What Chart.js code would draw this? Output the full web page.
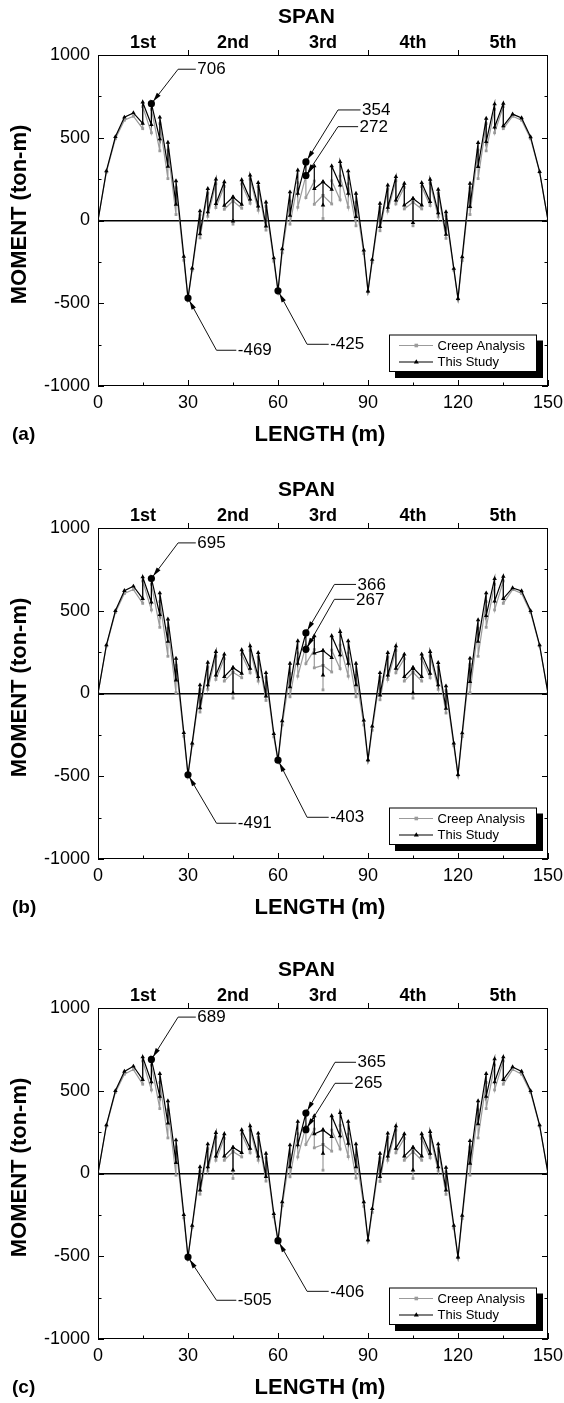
<!DOCTYPE html>
<html>
<head>
<meta charset="utf-8">
<script src="https://cdn.jsdelivr.net/npm/chart.js"></script>
<style>
  html, body { margin: 0; padding: 0; background: #fff; width: 564px; height: 1403px; overflow: hidden; }
  canvas { position: absolute; left: 0; }
</style>
</head>
<body>
<canvas id="chartA" width="564" height="452" style="top:0px"></canvas>
<canvas id="chartB" width="564" height="452" style="top:473px"></canvas>
<canvas id="chartC" width="564" height="452" style="top:953px"></canvas>
<script>
// node positions along the bridge (m); repeated x = jump in the moment diagram
const lengthM = [
  0, 2.8, 5.8, 8.8, 11.8, 14.9, 14.9, 17.8, 17.8, 20.6, 20.6, 23.3, 23.3, 26, 26, 28.6, 30,
  31.4, 34, 34, 36.6, 36.6, 39.3, 39.3, 42.1, 42.1, 45, 45, 45, 47.9, 47.9, 50.7, 50.7, 53.4, 53.4, 56, 56, 58.6, 60,
  61.4, 64, 64, 66.6, 66.6, 69.3, 69.3, 72.1, 72.1, 75, 75, 75, 77.9, 77.9, 80.7, 80.7, 83.4, 83.4, 86, 86, 88.6, 90,
  91.4, 94, 94, 96.6, 96.6, 99.3, 99.3, 102.1, 102.1, 105, 105, 105, 107.9, 107.9, 110.7, 110.7, 113.4, 113.4, 116, 116, 118.6, 120,
  121.4, 124, 124, 126.7, 126.7, 129.4, 129.4, 132.2, 132.2, 135.1, 135.1, 138.2, 141.2, 144.2, 147.2, 150
];

// (a)
const studyA = [
  0, 300, 506, 624, 650, 587, 715, 579, 706, 492, 624, 326, 472, 97, 239, -217, -469,
  -288, 57, -81, 192, 51, 249, 101, 233, 91, 142, -4, 142, 97, 245, 128, 273, 87, 229, -34, 111, -227, -425,
  -172, 172, 30, 304, 164, 354, 272, 329, 192, 234, 93, 234, 188, 329, 214, 355, 164, 299, 23, 164, -179, -427,
  -236, 103, -38, 214, 79, 264, 123, 224, 93, 133, -14, 133, 93, 228, 113, 248, 46, 188, -85, 52, -290, -472,
  -220, 224, 83, 470, 325, 617, 476, 704, 563, 708, 571, 643, 620, 505, 295, 0
];
const creepA = [
  0, 292, 494, 606, 630, 555, 688, 530, 672, 421, 585, 253, 425, 36, 198, -240, -472,
  -300, 35, -105, 165, 25, 222, 78, 206, 68, 118, -22, 118, 74, 220, 104, 250, 62, 205, -58, 86, -246, -430,
  -195, 118, -22, 228, 80, 272, 138, 238, 98, 152, 12, 152, 100, 240, 125, 268, 80, 222, -32, 110, -200, -430,
  -252, 80, -62, 190, 56, 240, 100, 200, 70, 110, -32, 110, 70, 205, 90, 226, 22, 165, -108, 30, -300, -475,
  -242, 198, 36, 425, 253, 585, 421, 672, 530, 688, 555, 630, 606, 494, 292, 0
];

// (b)
const studyB = [
  0, 293, 500, 621, 648, 573, 704, 551, 695, 476, 607, 314, 449, 81, 212, -237, -491,
  -300, 51, -87, 188, 51, 253, 111, 237, 101, 156, 4, 156, 121, 263, 152, 287, 101, 247, -16, 125, -243, -403,
  -166, 182, 40, 318, 182, 366, 267, 348, 243, 259, 111, 259, 217, 348, 233, 374, 182, 318, 51, 182, -162, -401,
  -198, 125, -10, 247, 111, 287, 152, 237, 101, 156, 4, 156, 101, 237, 121, 253, 51, 186, -91, 45, -300, -491,
  -239, 213, 71, 445, 314, 607, 470, 694, 557, 708, 573, 638, 620, 500, 293, 0
];
const creepB = [
  0, 287, 490, 604, 628, 545, 680, 505, 660, 400, 555, 225, 395, 5, 170, -258, -494,
  -312, 25, -112, 160, 25, 225, 85, 210, 75, 128, -28, 128, 95, 236, 125, 260, 75, 220, -42, 98, -262, -408,
  -190, 120, -20, 245, 105, 290, 180, 265, 155, 170, 22, 170, 130, 262, 150, 292, 105, 245, -20, 110, -190, -405,
  -222, 100, -38, 220, 85, 260, 125, 210, 75, 128, -28, 128, 75, 210, 95, 226, 25, 160, -118, 18, -316, -494,
  -260, 175, 5, 395, 225, 555, 400, 660, 505, 680, 545, 628, 604, 490, 287, 0
];

// (c)
const studyC = [
  0, 293, 500, 617, 648, 567, 704, 553, 689, 466, 603, 304, 439, 65, 202, -249, -505,
  -314, 40, -101, 178, 40, 247, 105, 239, 105, 158, 20, 158, 125, 263, 152, 287, 105, 243, -20, 121, -243, -406,
  -172, 172, 40, 314, 172, 365, 265, 348, 239, 263, 121, 263, 223, 348, 227, 368, 182, 314, 40, 178, -172, -401,
  -213, 121, -20, 243, 105, 287, 152, 239, 105, 158, 20, 158, 105, 239, 121, 253, 40, 178, -101, 36, -314, -505,
  -253, 198, 61, 439, 300, 603, 466, 692, 553, 704, 567, 644, 617, 500, 293, 0
];
const creepC = [
  0, 287, 490, 600, 628, 540, 680, 505, 655, 392, 550, 215, 385, -10, 160, -268, -508,
  -325, 15, -125, 150, 15, 220, 80, 212, 80, 132, -30, 132, 100, 238, 125, 262, 80, 218, -46, 95, -262, -410,
  -195, 112, -20, 240, 100, 285, 175, 268, 155, 175, 20, 175, 135, 262, 148, 290, 102, 238, -28, 110, -198, -405,
  -235, 95, -48, 218, 80, 262, 125, 212, 80, 132, -30, 132, 80, 212, 95, 228, 15, 150, -126, 10, -330, -508,
  -272, 160, -10, 385, 215, 550, 392, 655, 505, 680, 540, 628, 600, 490, 287, 0
];

const lengthTicks = [0, 30, 60, 90, 120, 150];
const momentTicks = [-1000, -500, 0, 500, 1000];
const spanCenters = [15, 45, 75, 105, 135];
const spanNames = ['1st', '2nd', '3rd', '4th', '5th'];

// labelled values: [text, length, moment]
const marksA = [['706', 17.8, 706], ['354', 69.3, 354], ['272', 69.3, 272], ['-469', 30, -469], ['-425', 60, -425]];
const marksB = [['695', 17.8, 695], ['366', 69.3, 366], ['267', 69.3, 267], ['-491', 30, -491], ['-403', 60, -403]];
const marksC = [['689', 17.8, 689], ['365', 69.3, 365], ['265', 69.3, 265], ['-505', 30, -505], ['-406', 60, -406]];

// where each leader line bends (in axis units) and where its horizontal part ends
const leadersA = [[26.7, 914, 32.6], [80, 668, 87.5], [80, 567, 86.7], [39.5, -784, 46.1], [69.7, -748, 76.9]];
const leadersB = [[26.7, 910, 32.6], [78.8, 659, 86], [78.8, 569, 85.5], [39.5, -784, 46.1], [69.7, -748, 76.9]];
const leadersC = [[26.7, 945, 32.6], [79, 672, 86], [79, 545, 84.9], [39.5, -766, 46.1], [69.7, -712, 76.9]];

const FONT = "'Liberation Sans', Arial, Helvetica, sans-serif";
Chart.defaults.font.family = FONT;
Chart.defaults.color = '#000';

function series(values) {
  return values.map((v, i) => ({ x: lengthM[i], y: v }));
}

const decor = {
  id: 'decor',
  afterDatasetsDraw(chart, args, opts) {
    const { ctx, chartArea: a, scales } = chart;
    const x = scales.x, y = scales.y;
    ctx.save();

    // frame and inward ticks
    ctx.strokeStyle = '#000';
    ctx.lineWidth = 1;
    ctx.strokeRect(a.left + 0.5, a.top + 0.5, a.right - a.left - 1, a.bottom - a.top - 1);
    ctx.beginPath();
    for (let v = 0; v <= 150; v += 15) {
      const px = Math.round(x.getPixelForValue(v)) + 0.5;
      const len = v % 30 === 0 ? 6 : 3.5;
      ctx.moveTo(px, a.bottom);
      ctx.lineTo(px, a.bottom - len);
    }
    for (let v = 30; v <= 120; v += 30) {
      const px = Math.round(x.getPixelForValue(v)) + 0.5;
      ctx.moveTo(px, a.top);
      ctx.lineTo(px, a.top - 5);
    }
    for (let v = -1000; v <= 1000; v += 250) {
      const py = Math.round(y.getPixelForValue(v)) + 0.5;
      const len = v % 500 === 0 ? 6 : 3.5;
      ctx.moveTo(a.left, py);
      ctx.lineTo(a.left + len, py);
      ctx.moveTo(a.right, py);
      ctx.lineTo(a.right - len, py);
    }
    ctx.stroke();

    // callouts
    opts.marks.forEach((m, i) => {
      const [text, mx, my] = m;
      const [bx, by, ex] = opts.leaders[i];
      const px = x.getPixelForValue(mx), py = y.getPixelForValue(my);
      const qx = x.getPixelForValue(bx), qy = y.getPixelForValue(by);
      const hx = x.getPixelForValue(ex);
      ctx.strokeStyle = '#111';
      ctx.lineWidth = 1;
      ctx.beginPath();
      ctx.moveTo(px, py);
      ctx.lineTo(qx, qy);
      ctx.lineTo(hx, qy);
      ctx.stroke();
      const ang = Math.atan2(qy - py, qx - px);
      const c = Math.cos(ang), s = Math.sin(ang);
      ctx.fillStyle = '#000';
      ctx.beginPath();
      ctx.moveTo(px + c * 3, py + s * 3);
      ctx.lineTo(px + c * 12 - s * 2.4, py + s * 12 + c * 2.4);
      ctx.lineTo(px + c * 12 + s * 2.4, py + s * 12 - c * 2.4);
      ctx.closePath();
      ctx.fill();
      ctx.beginPath();
      ctx.arc(px, py, 3.6, 0, Math.PI * 2);
      ctx.fill();
      ctx.font = '17px ' + FONT;
      ctx.textAlign = 'left';
      ctx.textBaseline = 'middle';
      ctx.fillText(text, hx + 1.5, qy + 0.5);
    });

    // legend with drop shadow
    const lx = a.right - 159, ly = a.bottom - 51.5, lw = 148, lh = 37.5;
    ctx.fillStyle = '#000';
    ctx.fillRect(lx + 6, ly + 6, lw, lh);
    ctx.fillStyle = '#fff';
    ctx.fillRect(lx, ly, lw, lh);
    ctx.strokeStyle = '#000';
    ctx.lineWidth = 1;
    ctx.strokeRect(lx + 0.5, ly + 0.5, lw - 1, lh - 1);
    chart.data.datasets.forEach((ds, i) => {
      const ry = ly + 11 + i * 16.5;
      ctx.strokeStyle = ds.borderColor;
      ctx.lineWidth = 1.2;
      ctx.beginPath();
      ctx.moveTo(lx + 10, ry);
      ctx.lineTo(lx + 44, ry);
      ctx.stroke();
      ctx.fillStyle = ds.borderColor;
      ctx.beginPath();
      if (ds.pointStyle === 'rect') {
        ctx.rect(lx + 25.5, ry - 1.8, 3.6, 3.6);
      } else {
        ctx.moveTo(lx + 27.3, ry - 2.8);
        ctx.lineTo(lx + 29.8, ry + 1.6);
        ctx.lineTo(lx + 24.8, ry + 1.6);
        ctx.closePath();
      }
      ctx.fill();
      ctx.fillStyle = '#000';
      ctx.font = '13px ' + FONT;
      ctx.textAlign = 'left';
      ctx.textBaseline = 'middle';
      ctx.fillText(ds.label, lx + 48.5, ry + 0.5);
    });

    // titles
    ctx.fillStyle = '#000';
    ctx.textAlign = 'center';
    ctx.textBaseline = 'middle';
    ctx.font = 'bold 21px ' + FONT;
    ctx.fillText('SPAN', x.getPixelForValue(69.5), a.top - 38);
    ctx.font = 'bold 22px ' + FONT;
    ctx.fillText('LENGTH (m)', (a.left + a.right) / 2 - 3, a.bottom + 49);
    ctx.save();
    ctx.translate(20, (a.top + a.bottom) / 2 - 6);
    ctx.rotate(-Math.PI / 2);
    ctx.fillText('MOMENT (ton-m)', 0, 0);
    ctx.restore();
    ctx.font = 'bold 19px ' + FONT;
    ctx.textAlign = 'left';
    ctx.fillText(opts.letter, 12, a.bottom + 49);
    ctx.restore();
  }
};

function makeChart(id, creep, study, letter, marks, leaders) {
  return new Chart(document.getElementById(id), {
    type: 'line',
    data: {
      datasets: [
        {
          label: 'Creep Analysis',
          data: series(creep),
          borderColor: '#9b9b9b',
          backgroundColor: '#9b9b9b',
          borderWidth: 1.2,
          pointStyle: 'rect',
          pointRadius: 2,
          pointBorderWidth: 0,
          tension: 0,
          order: 1
        },
        {
          label: 'This Study',
          data: series(study),
          borderColor: '#000',
          backgroundColor: '#000',
          borderWidth: 1.2,
          pointStyle: 'triangle',
          pointRadius: 2.6,
          pointBorderWidth: 0,
          tension: 0,
          order: 0
        }
      ]
    },
    options: {
      responsive: false,
      animation: false,
      devicePixelRatio: 1,
      layout: { padding: { left: 0, top: 0, bottom: 0, right: 16 } },
      plugins: {
        legend: { display: false },
        tooltip: { enabled: false },
        decor: { letter: letter, marks: marks, leaders: leaders }
      },
      scales: {
        x: {
          type: 'linear',
          position: 'bottom',
          min: 0,
          max: 150,
          afterBuildTicks: s => { s.ticks = lengthTicks.map(v => ({ value: v })); },
          ticks: { font: { size: 18 }, padding: 6, maxRotation: 0, autoSkip: false, callback: v => String(v) },
          grid: { display: false, drawTicks: false },
          border: { display: false },
          afterFit: s => { s.height = 66; s.paddingLeft = 0; s.paddingRight = 0; }
        },
        xTop: {
          type: 'linear',
          position: 'top',
          min: 0,
          max: 150,
          afterBuildTicks: s => { s.ticks = spanCenters.map(v => ({ value: v })); },
          ticks: {
            font: { size: 18, weight: 'bold' },
            padding: 1.5,
            maxRotation: 0,
            autoSkip: false,
            callback: v => spanNames[spanCenters.indexOf(v)]
          },
          grid: { display: false, drawTicks: false },
          border: { display: false },
          afterFit: s => { s.height = 55; s.paddingLeft = 0; s.paddingRight = 0; }
        },
        y: {
          min: -1000,
          max: 1000,
          afterBuildTicks: s => { s.ticks = momentTicks.map(v => ({ value: v })); },
          ticks: { font: { size: 18 }, padding: 8, callback: v => String(v) },
          grid: {
            drawTicks: false,
            color: c => (c.tick && c.tick.value === 0 ? '#000' : 'rgba(0,0,0,0)'),
            lineWidth: 1.5
          },
          border: { display: false },
          afterFit: s => { s.width = 98; s.paddingTop = 0; s.paddingBottom = 0; }
        }
      }
    },
    plugins: [decor]
  });
}

makeChart('chartA', creepA, studyA, '(a)', marksA, leadersA);
makeChart('chartB', creepB, studyB, '(b)', marksB, leadersB);
makeChart('chartC', creepC, studyC, '(c)', marksC, leadersC);
</script>
</body>
</html>
